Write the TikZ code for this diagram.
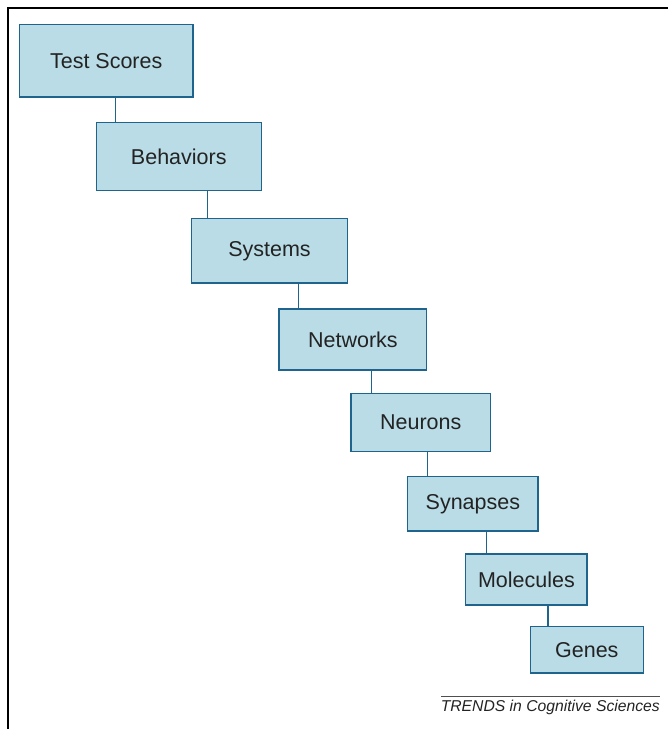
\documentclass[tikz,border=0pt]{standalone}
\usepackage{fontspec}
\setmainfont{Liberation Sans}
\definecolor{boxfill}{RGB}{185,220,230}
\definecolor{boxline}{RGB}{30,100,140}
\definecolor{txt}{RGB}{35,35,35}
\begin{document}
\begin{tikzpicture}[x=1pt,y=-1pt,
  box/.style={draw=boxline, fill=boxfill, line width=1.4pt, inner sep=0pt,
    text=txt, font=\fontsize{21.5}{25}\selectfont},
  link/.style={draw=boxline, line width=1.4pt}]
\useasboundingbox (0,0) rectangle (668,729);
% frame
\draw[line width=2.4pt] (8,729) -- (8,7.7) -- (668,7.7);
% boxes
\node[box, minimum width=173.7pt, minimum height=72.5pt] (ts) at (106.2,60.8) {Test Scores};
\node[box, minimum width=165pt, minimum height=68.2pt] (bh) at (178.8,156.4) {Behaviors};
\node[box, minimum width=155.6pt, minimum height=64.3pt] (sy) at (269.5,250.9) {Systems};
\node[box, minimum width=147.7pt, minimum height=61pt] (nw) at (352.9,339.5) {Networks};
\node[box, minimum width=139.3pt, minimum height=58pt] (nr) at (420.7,422.7) {Neurons};
\node[box, minimum width=130.3pt, minimum height=54.3pt] (sn) at (472.9,503.9) {Synapses};
\node[box, minimum width=121.3pt, minimum height=51pt] (ml) at (526.4,579.5) {Molecules};
\node[box, minimum width=113pt, minimum height=46.3pt] (gn) at (586.8,649.9) {Genes};
% connectors
\draw[link] ([xshift=20pt]bh.north west) -- ([xshift=20pt]bh.north west |- ts.south);
\draw[link] ([xshift=16.3pt]sy.north west) -- ([xshift=16.3pt]sy.north west |- bh.south);
\draw[link] ([xshift=20pt]nw.north west) -- ([xshift=20pt]nw.north west |- sy.south);
\draw[link] ([xshift=21.3pt]nr.north west) -- ([xshift=21.3pt]nr.north west |- nw.south);
\draw[link] ([xshift=20.3pt]sn.north west) -- ([xshift=20.3pt]sn.north west |- nr.south);
\draw[link] ([xshift=21.3pt]ml.north west) -- ([xshift=21.3pt]ml.north west |- sn.south);
\draw[link] ([xshift=18.4pt]gn.north west) -- ([xshift=18.4pt]gn.north west |- ml.south);
% caption
\coordinate (capl) at (441,696);
\coordinate (capr) at (660,696);
\draw[line width=0.8pt, draw=txt!80] (capl) -- (capr);
\node[anchor=base east, inner sep=0pt, text=txt, font=\fontsize{15.7}{18}\selectfont\itshape] (cap) at (660,711.5) {TRENDS in Cognitive Sciences};
\end{tikzpicture}
\end{document}
